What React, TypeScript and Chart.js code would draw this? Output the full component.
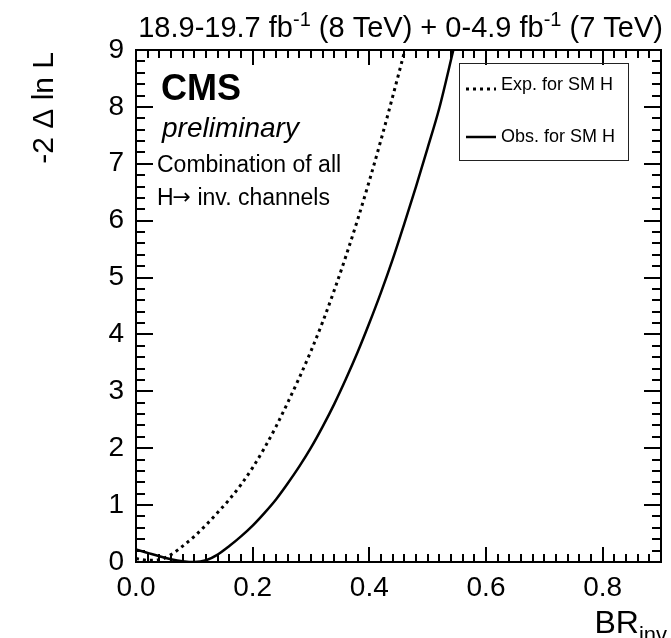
import React, { useEffect, useRef } from "react";
import { Chart, registerables } from "chart.js";

Chart.register(...registerables);

// ---- data ----
const expBR = [0, 0.02, 0.04, 0.06, 0.08, 0.1, 0.12, 0.14, 0.16, 0.18, 0.2, 0.22, 0.24, 0.26, 0.28, 0.3, 0.32, 0.34, 0.36, 0.38, 0.4, 0.42, 0.44, 0.461];
const expNLL = [0.06, 0.03, 0.04, 0.13, 0.28, 0.45, 0.65, 0.87, 1.1, 1.36, 1.66, 2.0, 2.38, 2.8, 3.24, 3.71, 4.22, 4.78, 5.38, 6.02, 6.7, 7.42, 8.18, 9.0];
const obsBR = [0, 0.02, 0.04, 0.06, 0.08, 0.1, 0.12, 0.14, 0.16, 0.18, 0.2, 0.22, 0.24, 0.26, 0.28, 0.3, 0.32, 0.34, 0.36, 0.38, 0.4, 0.42, 0.44, 0.46, 0.48, 0.5, 0.52, 0.544];
const obsNLL = [0.22, 0.16, 0.1, 0.05, 0.015, 0, 0.03, 0.13, 0.28, 0.45, 0.64, 0.86, 1.1, 1.38, 1.68, 2.01, 2.38, 2.78, 3.22, 3.69, 4.2, 4.74, 5.32, 5.95, 6.6, 7.28, 7.98, 9.0];

const seriesLabels = ["Exp. for SM H", "Obs. for SM H"];
const xRange = [0, 0.9];
const yRange = [0, 9];
const xMajorStep = 0.2;
const xMinorStep = 0.02;
const yMajorStep = 1;
const yMinorStep = 0.2;

const titleParts = [
  { t: "18.9-19.7 fb", sup: false },
  { t: "-1", sup: true },
  { t: " (8 TeV) + 0-4.9 fb", sup: false },
  { t: "-1", sup: true },
  { t: " (7 TeV)", sup: false },
];
const cmsText = "CMS";
const prelimText = "preliminary";
const infoLine1 = "Combination of all";
const infoLine2Parts = ["H", "\u2192", " inv. channels"];
const yTitle = "-2 \u0394 ln L";
const xTitleMain = "BR";
const xTitleSub = "inv";

const FONT = "'Liberation Sans', Arial, Helvetica, sans-serif";

const decorPlugin = {
  id: "rootDecor",
  afterDraw(chart: any) {
    const { ctx, chartArea: a, scales } = chart;
    const xs = scales.x;
    const ys = scales.y;
    ctx.save();
    ctx.strokeStyle = "#000";
    ctx.fillStyle = "#000";

    // frame
    ctx.lineWidth = 2;
    ctx.strokeRect(a.left, a.top, a.right - a.left, a.bottom - a.top);

    // x ticks (bottom & top)
    const nx = Math.round((xRange[1] - xRange[0]) / xMinorStep);
    const perMajX = Math.round(xMajorStep / xMinorStep);
    ctx.lineWidth = 2;
    ctx.beginPath();
    for (let i = 0; i <= nx; i++) {
      const v = xRange[0] + i * xMinorStep;
      const px = Math.round(xs.getPixelForValue(v));
      const len = i % perMajX === 0 ? 15 : 8;
      ctx.moveTo(px, a.bottom);
      ctx.lineTo(px, a.bottom - len);
      ctx.moveTo(px, a.top);
      ctx.lineTo(px, a.top + len);
    }
    // y ticks (left & right)
    const ny = Math.round((yRange[1] - yRange[0]) / yMinorStep);
    const perMajY = Math.round(yMajorStep / yMinorStep);
    for (let i = 0; i <= ny; i++) {
      const v = yRange[0] + i * yMinorStep;
      const py = Math.round(ys.getPixelForValue(v));
      const len = i % perMajY === 0 ? 17 : 9;
      ctx.moveTo(a.left, py);
      ctx.lineTo(a.left + len, py);
      ctx.moveTo(a.right, py);
      ctx.lineTo(a.right - len, py);
    }
    ctx.stroke();

    // title with superscripts, right aligned
    const tSize = 29;
    const sSize = 20;
    let total = 0;
    for (const p of titleParts) {
      ctx.font = `${p.sup ? sSize : tSize}px ${FONT}`;
      total += ctx.measureText(p.t).width;
    }
    let tx = 663 - total;
    ctx.textBaseline = "alphabetic";
    ctx.textAlign = "left";
    for (const p of titleParts) {
      ctx.font = `${p.sup ? sSize : tSize}px ${FONT}`;
      ctx.fillText(p.t, tx, p.sup ? 26 : 37);
      tx += ctx.measureText(p.t).width;
    }

    // CMS label
    ctx.font = `bold 36px ${FONT}`;
    ctx.fillText(cmsText, 161, 100);
    ctx.font = `italic 28px ${FONT}`;
    ctx.fillText(prelimText, 162, 137);
    ctx.font = `23px ${FONT}`;
    ctx.fillText(infoLine1, 157, 172);
    let ix = 157;
    ctx.fillText(infoLine2Parts[0], ix, 205);
    ix += ctx.measureText(infoLine2Parts[0]).width;
    ctx.font = `22px 'DejaVu Sans', ${FONT}`;
    ctx.fillText(infoLine2Parts[1], ix - 1, 204);
    ix += ctx.measureText(infoLine2Parts[1]).width - 1;
    ctx.font = `23px ${FONT}`;
    ctx.fillText(infoLine2Parts[2], ix, 205);

    // legend
    ctx.lineWidth = 1;
    ctx.strokeStyle = "#222";
    ctx.strokeRect(459.5, 63.5, 169, 97);
    const ds = chart.data.datasets;
    const rows = [89, 137];
    ctx.font = `18px ${FONT}`;
    for (let k = 0; k < ds.length; k++) {
      const y = rows[k];
      ctx.save();
      ctx.strokeStyle = "#000";
      ctx.lineWidth = ds[k].borderWidth;
      ctx.setLineDash(ds[k].borderDash || []);
      ctx.beginPath();
      ctx.moveTo(466, y);
      ctx.lineTo(496, y);
      ctx.stroke();
      ctx.restore();
      ctx.fillText(ds[k].label, 501, y + (k === 0 ? 1 : 5));
    }

    // y title (rotated)
    ctx.save();
    ctx.translate(53, 52);
    ctx.rotate(-Math.PI / 2);
    ctx.font = `30px ${FONT}`;
    ctx.textAlign = "right";
    ctx.fillText(yTitle, 0, 0);
    ctx.restore();

    // x title with subscript
    ctx.font = `32px ${FONT}`;
    const wMain = ctx.measureText(xTitleMain).width;
    ctx.font = `22px ${FONT}`;
    const wSub = ctx.measureText(xTitleSub).width;
    const x0 = 667 - wMain - wSub;
    ctx.font = `32px ${FONT}`;
    ctx.textAlign = "left";
    ctx.fillText(xTitleMain, x0, 633);
    ctx.font = `22px ${FONT}`;
    ctx.fillText(xTitleSub, x0 + wMain, 642);

    ctx.restore();
  },
};

export default function App() {
  const ref = useRef<HTMLCanvasElement | null>(null);

  useEffect(() => {
    if (!ref.current) return;
    const expData = expBR.map((x, i) => ({ x, y: expNLL[i] }));
    const obsData = obsBR.map((x, i) => ({ x, y: obsNLL[i] }));
    const chart = new Chart(ref.current, {
      type: "scatter",
      data: {
        datasets: [
          {
            label: seriesLabels[0],
            data: expData,
            showLine: true,
            borderColor: "#000",
            borderWidth: 3,
            borderDash: [3, 4],
            borderCapStyle: "butt",
            pointRadius: 0,
            cubicInterpolationMode: "monotone",
          },
          {
            label: seriesLabels[1],
            data: obsData,
            showLine: true,
            borderColor: "#000",
            borderWidth: 2.5,
            pointRadius: 0,
            cubicInterpolationMode: "monotone",
          },
        ],
      },
      options: {
        responsive: false,
        animation: false,
        devicePixelRatio: 1,
        layout: { padding: { left: 0, top: 50, right: 10, bottom: 0 } },
        plugins: {
          legend: { display: false },
          tooltip: { enabled: false },
          title: { display: false },
        },
        scales: {
          x: {
            type: "linear",
            min: xRange[0],
            max: xRange[1],
            grid: { display: false, drawTicks: false },
            border: { display: false },
            ticks: {
              stepSize: xMajorStep,
              includeBounds: false,
              autoSkip: false,
              maxRotation: 0,
              padding: 9,
              color: "#000",
              font: { family: FONT, size: 28 },
              callback: (v: any) => Number(v).toFixed(1),
            },
            afterFit: (s: any) => {
              s.height = 76;
            },
          },
          y: {
            type: "linear",
            min: yRange[0],
            max: yRange[1],
            grid: { display: false, drawTicks: false },
            border: { display: false },
            ticks: {
              stepSize: yMajorStep,
              autoSkip: false,
              padding: 12,
              color: "#000",
              font: { family: FONT, size: 28 },
              callback: (v: any) => String(Math.round(Number(v))),
            },
            afterFit: (s: any) => {
              s.width = 136;
            },
          },
        },
      } as any,
      plugins: [decorPlugin],
    });
    return () => chart.destroy();
  }, []);

  return (
    <div style={{ position: "absolute", left: 0, top: 0, width: 671, height: 638, background: "#fff" }}>
      <canvas ref={ref} width={671} height={638} style={{ width: 671, height: 638, display: "block" }} />
    </div>
  );
}
